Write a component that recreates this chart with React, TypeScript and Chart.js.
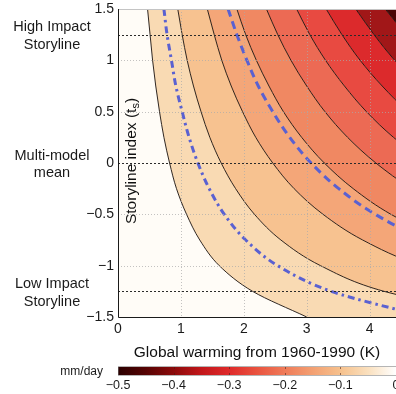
import { useEffect, useRef } from 'react';
import { Chart, registerables } from 'chart.js';

Chart.register(...registerables);

const FONT = '"Liberation Sans", Arial, Helvetica, sans-serif';

// Storyline index rows at which each curve's warming value is tabulated
const STORYLINE_ROWS = [1.5, 1.25, 1, 0.75, 0.5, 0.25, 0, -0.25, -0.5, -0.75, -1, -1.25, -1.5];

// Global warming (K) at which the precipitation change reaches each contour level
const WARMING_AT_005 = [0.47, 0.51, 0.55, 0.6, 0.66, 0.73, 0.82, 0.93, 1.09, 1.3, 1.61, 2.14, 3.0];
const WARMING_AT_010 = [0.95, 1.02, 1.1, 1.2, 1.32, 1.46, 1.64, 1.87, 2.17, 2.59, 3.22, 4.23, 6.19];
const WARMING_AT_015 = [1.42, 1.53, 1.65, 1.8, 1.98, 2.19, 2.46, 2.8, 3.26, 3.89, 4.82, 6.35, 9.28];
const WARMING_AT_020 = [1.89, 2.03, 2.2, 2.4, 2.63, 2.92, 3.28, 3.74, 4.34, 5.19, 6.43, 8.46, 12.38];
const WARMING_AT_025 = [2.36, 2.54, 2.75, 3.0, 3.29, 3.65, 4.1, 4.67, 5.43, 6.48, 8.04, 10.58, 15.47];
const WARMING_AT_030 = [2.84, 3.05, 3.3, 3.6, 3.95, 4.38, 4.92, 5.61, 6.52, 7.78, 9.65, 12.7, 18.57];
const WARMING_AT_035 = [3.31, 3.56, 3.85, 4.2, 4.61, 5.11, 5.74, 6.54, 7.6, 9.08, 11.25, 14.81, 21.66];
const WARMING_AT_040 = [3.78, 4.07, 4.4, 4.8, 5.27, 5.84, 6.56, 7.48, 8.69, 10.37, 12.86, 16.93, 24.75];
const WARMING_AT_045 = [4.25, 4.58, 4.95, 5.4, 5.93, 6.58, 7.38, 8.41, 9.78, 11.67, 14.47, 19.04, 27.85];

const CONTOUR_LEVELS = [-0.05, -0.1, -0.15, -0.2, -0.25, -0.3, -0.35, -0.4, -0.45];
const CONTOUR_CURVES = [
  WARMING_AT_005, WARMING_AT_010, WARMING_AT_015, WARMING_AT_020, WARMING_AT_025,
  WARMING_AT_030, WARMING_AT_035, WARMING_AT_040, WARMING_AT_045,
];

// Fill colour of each band, from 0 … -0.05 down to below -0.45 mm/day
const BAND_COLORS = [
  '#fffcf7', '#f9dab3', '#f7c290', '#f4a678', '#f08862',
  '#ec6a54', '#e84a41', '#dc2a2c', '#a11718', '#4a0606',
];

// Blue highlighted curves
const DASHDOT_CURVE = [0.73, 0.78, 0.85, 0.92, 1.02, 1.13, 1.27, 1.45, 1.69, 2.03, 2.54, 3.39, 4.9];
const DASHED_CURVE = [1.75, 1.89, 2.05, 2.23, 2.46, 2.73, 3.07, 3.51, 4.09, 4.91, 6.14, 8.19, 12.28];

const WARMING_RANGE = [0, 4.42];
const STORYLINE_RANGE = [-1.5, 1.5];
const X_GRID = [1, 2, 3, 4];
const Y_GRID = [-1, -0.5, 0.5, 1];
const STORYLINE_MARKS = [1.25, 0, -1.25];
const STORYLINE_NAMES = [
  ['High Impact', 'Storyline'],
  ['Multi-model', 'mean'],
  ['Low Impact', 'Storyline'],
];

const COLORBAR_RANGE = [-0.5, 0];
const COLORBAR_STOPS = [-0.5, -0.45, -0.4, -0.35, -0.3, -0.25, -0.2, -0.15, -0.1, -0.05, 0];
const COLORBAR_COLORS = [
  '#2a0000', '#560303', '#8c0a0a', '#c2171a', '#df2a2b', '#e9533f',
  '#ef7b59', '#f3a072', '#f6c18d', '#fae0be', '#ffffff',
];
const COLORBAR_MARKS = [-0.4, -0.3, -0.2, -0.1];
const COLORBAR_UNIT = 'mm/day';

const fmt = (v: number) => String(Number(v.toFixed(2))).replace('-', '\u2212');
const toPoints = (xs: number[]) => STORYLINE_ROWS.map((t, i) => ({ x: xs[i], y: t }));

// keep the plot edge fixed regardless of how wide the end labels are
const fixHeight = (h: number) => (s: any) => {
  s.height = h;
  s.paddingLeft = 0;
  s.paddingRight = 0;
};

const overlayPlugin = {
  id: 'overlay',
  afterDatasetsDraw(chart: any) {
    const { ctx, chartArea: a, scales } = chart;
    const x = scales.x;
    const y = scales.y;
    const hLine = (py: number) => {
      ctx.beginPath();
      ctx.moveTo(a.left, py);
      ctx.lineTo(a.right, py);
      ctx.stroke();
    };
    ctx.save();
    ctx.lineWidth = 1;

    // light dotted grid
    ctx.strokeStyle = 'rgba(170,170,170,0.7)';
    ctx.setLineDash([1, 2]);
    for (const v of X_GRID) {
      const px = Math.round(x.getPixelForValue(v)) + 0.5;
      ctx.beginPath();
      ctx.moveTo(px, a.top);
      ctx.lineTo(px, a.bottom);
      ctx.stroke();
    }
    for (const v of Y_GRID) hLine(Math.round(y.getPixelForValue(v)) + 0.5);

    // storyline reference lines
    ctx.strokeStyle = '#2b2b2b';
    ctx.setLineDash([2, 2]);
    for (const t of STORYLINE_MARKS) hLine(Math.round(y.getPixelForValue(t)) + 0.5);

    // frame
    ctx.setLineDash([]);
    ctx.strokeStyle = '#c4c4c4';
    hLine(Math.round(a.top) + 0.5);
    ctx.strokeStyle = '#1a1a1a';
    ctx.beginPath();
    ctx.moveTo(Math.round(a.left) + 0.5, a.top);
    ctx.lineTo(Math.round(a.left) + 0.5, a.bottom + 0.5);
    ctx.lineTo(a.right, a.bottom + 0.5);
    ctx.stroke();

    // y-axis title, written inside the plot
    const main = 'Storyline index (t';
    const sub = 's';
    const close = ')';
    ctx.fillStyle = '#111';
    ctx.textBaseline = 'middle';
    ctx.textAlign = 'left';
    ctx.font = `15.5px ${FONT}`;
    const w1 = ctx.measureText(main).width;
    const w3 = ctx.measureText(close).width;
    ctx.font = `11px ${FONT}`;
    const w2 = ctx.measureText(sub).width;
    const total = w1 + w2 + w3;
    ctx.translate(a.left + 14, y.getPixelForValue(0) - 2);
    ctx.rotate(-Math.PI / 2);
    ctx.font = `15.5px ${FONT}`;
    ctx.fillText(main, -total / 2, 0);
    ctx.font = `11px ${FONT}`;
    ctx.fillText(sub, -total / 2 + w1, 4);
    ctx.font = `15.5px ${FONT}`;
    ctx.fillText(close, -total / 2 + w1 + w2, 0);
    ctx.restore();
  },
  afterDraw(chart: any) {
    const { ctx, scales } = chart;
    const y = scales.y;
    const cb = scales.cb;
    ctx.save();

    // storyline names in the left margin
    ctx.fillStyle = '#1a1a1a';
    ctx.font = `14.5px ${FONT}`;
    ctx.textAlign = 'center';
    ctx.textBaseline = 'middle';
    STORYLINE_MARKS.forEach((t, i) => {
      const cy = y.getPixelForValue(t) + 1.5;
      const lines = STORYLINE_NAMES[i];
      ctx.fillText(lines[0], 52, cy - 8.75);
      ctx.fillText(lines[1], 52, cy + 8.75);
    });

    // colour bar on its own bottom scale
    const x0 = cb.getPixelForValue(COLORBAR_RANGE[0]);
    const x1 = cb.getPixelForValue(COLORBAR_RANGE[1]);
    const top = cb.top + 7;
    const h = 8;
    const g = ctx.createLinearGradient(x0, 0, x1, 0);
    COLORBAR_STOPS.forEach((v, i) => {
      const f = (v - COLORBAR_RANGE[0]) / (COLORBAR_RANGE[1] - COLORBAR_RANGE[0]);
      g.addColorStop(Math.min(1, Math.max(0, f)), COLORBAR_COLORS[i]);
    });
    ctx.fillStyle = g;
    ctx.fillRect(x0, top, x1 - x0, h);
    ctx.strokeStyle = 'rgba(120,120,120,0.55)';
    ctx.lineWidth = 1;
    ctx.strokeRect(Math.round(x0) + 0.5, top - 0.5, x1 - x0, h + 1);
    ctx.strokeStyle = 'rgba(70,30,20,0.55)';
    for (const v of COLORBAR_MARKS) {
      const px = Math.round(cb.getPixelForValue(v)) + 0.5;
      ctx.beginPath();
      ctx.moveTo(px, top);
      ctx.lineTo(px, top + 2);
      ctx.moveTo(px, top + h - 2);
      ctx.lineTo(px, top + h);
      ctx.stroke();
    }
    ctx.fillStyle = '#1a1a1a';
    ctx.font = `12px ${FONT}`;
    ctx.textAlign = 'right';
    ctx.fillText(COLORBAR_UNIT, x0 - 15, top + h / 2 + 1);
    ctx.restore();
  },
};

export default function App() {
  const mainRef = useRef<HTMLCanvasElement>(null);

  useEffect(() => {
    const datasets: any[] = CONTOUR_CURVES.map((xs, i) => ({
      label: `${CONTOUR_LEVELS[i]} mm/day`,
      data: toPoints(xs),
      xAxisID: 'x',
      yAxisID: 'y',
      borderColor: 'rgba(25,15,10,0.9)',
      borderWidth: 1,
      backgroundColor: BAND_COLORS[i],
      fill: i === 0 ? { value: WARMING_RANGE[0] } : i - 1,
      order: 2,
    }));
    datasets.push({
      label: `< ${CONTOUR_LEVELS[CONTOUR_LEVELS.length - 1]} mm/day`,
      data: toPoints(CONTOUR_CURVES[CONTOUR_CURVES.length - 1]),
      xAxisID: 'x',
      yAxisID: 'y',
      borderWidth: 0,
      backgroundColor: BAND_COLORS[BAND_COLORS.length - 1],
      fill: { value: 100 },
      order: 2,
    });
    datasets.push({
      label: 'dash-dot',
      data: toPoints(DASHDOT_CURVE),
      xAxisID: 'x',
      yAxisID: 'y',
      borderColor: '#5a61d1',
      borderWidth: 3,
      borderDash: [7, 4, 2.5, 4],
      fill: false,
      order: 1,
    });
    datasets.push({
      label: 'dashed',
      data: toPoints(DASHED_CURVE),
      xAxisID: 'x',
      yAxisID: 'y',
      borderColor: '#5a61d1',
      borderWidth: 3,
      borderDash: [8, 5],
      fill: false,
      order: 1,
    });

    const tickFont = { family: FONT, size: 14 };
    const chart = new Chart(mainRef.current as HTMLCanvasElement, {
      type: 'line',
      data: { datasets },
      options: {
        responsive: false,
        animation: false,
        devicePixelRatio: 1,
        indexAxis: 'y',
        events: [],
        layout: { padding: { top: 9, left: 0, right: 0, bottom: 0 }, autoPadding: false },
        elements: {
          point: { radius: 0, hoverRadius: 0 },
          line: { cubicInterpolationMode: 'monotone', capBezierPoints: false },
        },
        plugins: {
          legend: { display: false },
          tooltip: { enabled: false },
          filler: { drawTime: 'beforeDatasetsDraw', propagate: false },
        },
        scales: {
          x: {
            type: 'linear',
            position: 'bottom',
            weight: 0,
            min: WARMING_RANGE[0],
            max: WARMING_RANGE[1],
            afterFit: fixHeight(43),
            ticks: {
              stepSize: 1,
              includeBounds: false,
              callback: (v: any) => fmt(Number(v)),
              font: tickFont,
              color: '#1a1a1a',
              padding: 4,
              maxRotation: 0,
            },
            grid: { display: false, drawTicks: false },
            border: { display: false },
            title: {
              display: true,
              text: 'Global warming from 1960-1990 (K)',
              font: { family: FONT, size: 15.5, lineHeight: 1 },
              color: '#111',
              padding: 0,
            },
          },
          cb: {
            type: 'linear',
            axis: 'x',
            position: 'bottom',
            weight: 1,
            min: COLORBAR_RANGE[0],
            max: COLORBAR_RANGE[1],
            afterFit: fixHeight(34),
            ticks: {
              stepSize: 0.1,
              callback: (v: any) => fmt(Number(v)),
              font: { family: FONT, size: 12.5 },
              color: '#1a1a1a',
              padding: 18,
              maxRotation: 0,
              autoSkip: false,
            },
            grid: { display: false, drawTicks: false },
            border: { display: false },
          },
          y: {
            type: 'linear',
            position: 'left',
            min: STORYLINE_RANGE[0],
            max: STORYLINE_RANGE[1],
            afterFit: (s: any) => {
              s.width = 118;
              s.paddingTop = 0;
              s.paddingBottom = 0;
            },
            ticks: {
              stepSize: 0.5,
              callback: (v: any) => fmt(Number(v)),
              font: tickFont,
              color: '#1a1a1a',
              padding: 4,
            },
            grid: { display: false, drawTicks: false },
            border: { display: false },
          },
        },
      } as any,
      plugins: [overlayPlugin],
    });

    return () => {
      chart.destroy();
    };
  }, []);

  return (
    <div style={{ position: 'fixed', left: 0, top: 0, width: 396, height: 394, overflow: 'hidden', background: '#fff' }}>
      <canvas ref={mainRef} width={396} height={394} style={{ display: 'block' }} />
    </div>
  );
}
